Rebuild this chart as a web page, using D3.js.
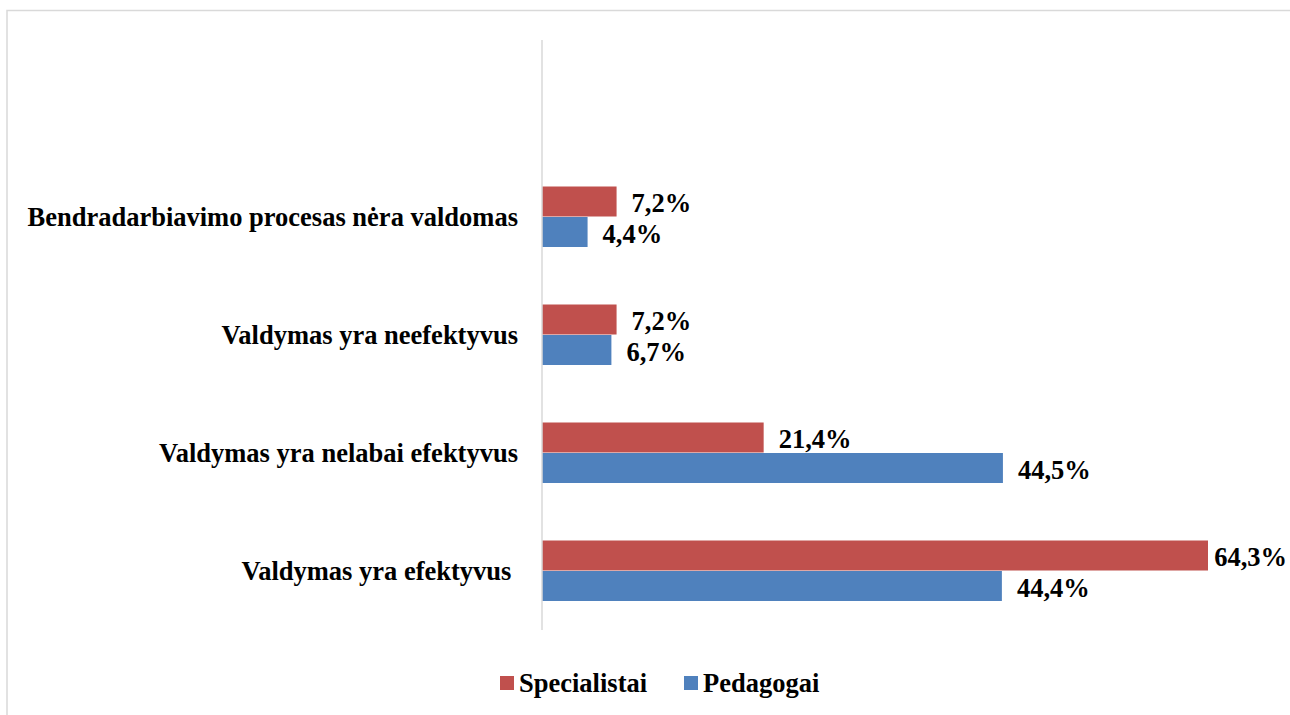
<!DOCTYPE html>
<html>
<head>
<meta charset="utf-8">
<script src="https://cdn.jsdelivr.net/npm/d3@7"></script>
<style>
  body { margin: 0; background: #fff; font-family: 'Liberation Serif', serif; }
</style>
</head>
<body>
<div id="chart"></div>
<script>
const categories = [
  'Bendradarbiavimo procesas nėra valdomas',
  'Valdymas yra neefektyvus',
  'Valdymas yra nelabai efektyvus',
  'Valdymas yra efektyvus '
];
const seriesNames = ['Specialistai', 'Pedagogai'];
const specialistai = [7.2, 7.2, 21.4, 64.3];
const pedagogai = [4.4, 6.7, 44.5, 44.4];
const colors = ['#C0504D', '#4F81BD'];

const width = 1290, height = 715;
const margin = {top: 40, left: 542, bottom: 85};
const font = "'Liberation Serif', 'Times New Roman', serif";
const fmt = v => d3.format('.1f')(v).replace('.', ',') + '%';

// all texts share the same look
const styleText = sel => sel
  .style('font-family', font)
  .style('font-weight', 'bold')
  .style('font-size', '26.5px')
  .style('fill', '#000');

const svg = d3.select('#chart').append('svg')
  .attr('width', width)
  .attr('height', height);

// outer chart frame
svg.append('rect')
  .attr('x', 7).attr('y', 10.5)
  .attr('width', width + 10).attr('height', height + 10)
  .attr('fill', 'none')
  .attr('stroke', '#d9d9d9')
  .attr('stroke-width', 1.5);

const x = d3.scaleLinear()
  .domain([0, 64.3])
  .range([margin.left, 1208]);

// one empty band on top, as in the original plot area
const y = d3.scaleBand()
  .domain(['', ...categories])
  .range([margin.top, height - margin.bottom]);

const inner = d3.scaleBand()
  .domain(seriesNames)
  .range([0, 61])
  .padding(0);

const series = [specialistai, pedagogai];

series.forEach((values, s) => {
  const g = svg.append('g');
  const barY = i => y(categories[i]) + (y.bandwidth() - 61) / 2 + inner(seriesNames[s]);
  g.selectAll('rect')
    .data(values)
    .enter().append('rect')
    .attr('x', x(0))
    .attr('y', (d, i) => barY(i))
    .attr('width', d => x(d) - x(0))
    .attr('height', inner.bandwidth() - 0.5)
    .attr('fill', colors[s]);

  g.selectAll('text')
    .data(values)
    .enter().append('text')
    .call(styleText)
    .attr('y', (d, i) => barY(i) + inner.bandwidth() / 2 + 1)
    .attr('dy', '0.35em')
    .text(fmt)
    .attr('x', function(d) {
      const w = this.getComputedTextLength();
      return Math.min(x(d) + 15, width - 3 - w);
    });
});

// vertical category axis
svg.append('line')
  .attr('x1', x(0)).attr('x2', x(0))
  .attr('y1', margin.top).attr('y2', height - margin.bottom)
  .attr('stroke', '#d9d9d9')
  .attr('stroke-width', 1.5);

svg.append('g').selectAll('text')
  .data(categories)
  .enter().append('text')
  .call(styleText)
  .attr('x', x(0) - 24)
  .attr('y', d => y(d) + y.bandwidth() / 2)
  .attr('dy', '0.35em')
  .attr('text-anchor', 'end')
  .style('white-space', 'pre')
  .text(d => d);

// legend
const legend = svg.append('g').attr('transform', 'translate(500,683)');
const legendX = [0, 184];
seriesNames.forEach((name, i) => {
  legend.append('rect')
    .attr('x', legendX[i]).attr('y', -7)
    .attr('width', 14).attr('height', 14)
    .attr('fill', colors[i]);
  legend.append('text')
    .call(styleText)
    .attr('x', legendX[i] + 19).attr('y', 0)
    .attr('dy', '0.35em')
    .text(name);
});
</script>
</body>
</html>
